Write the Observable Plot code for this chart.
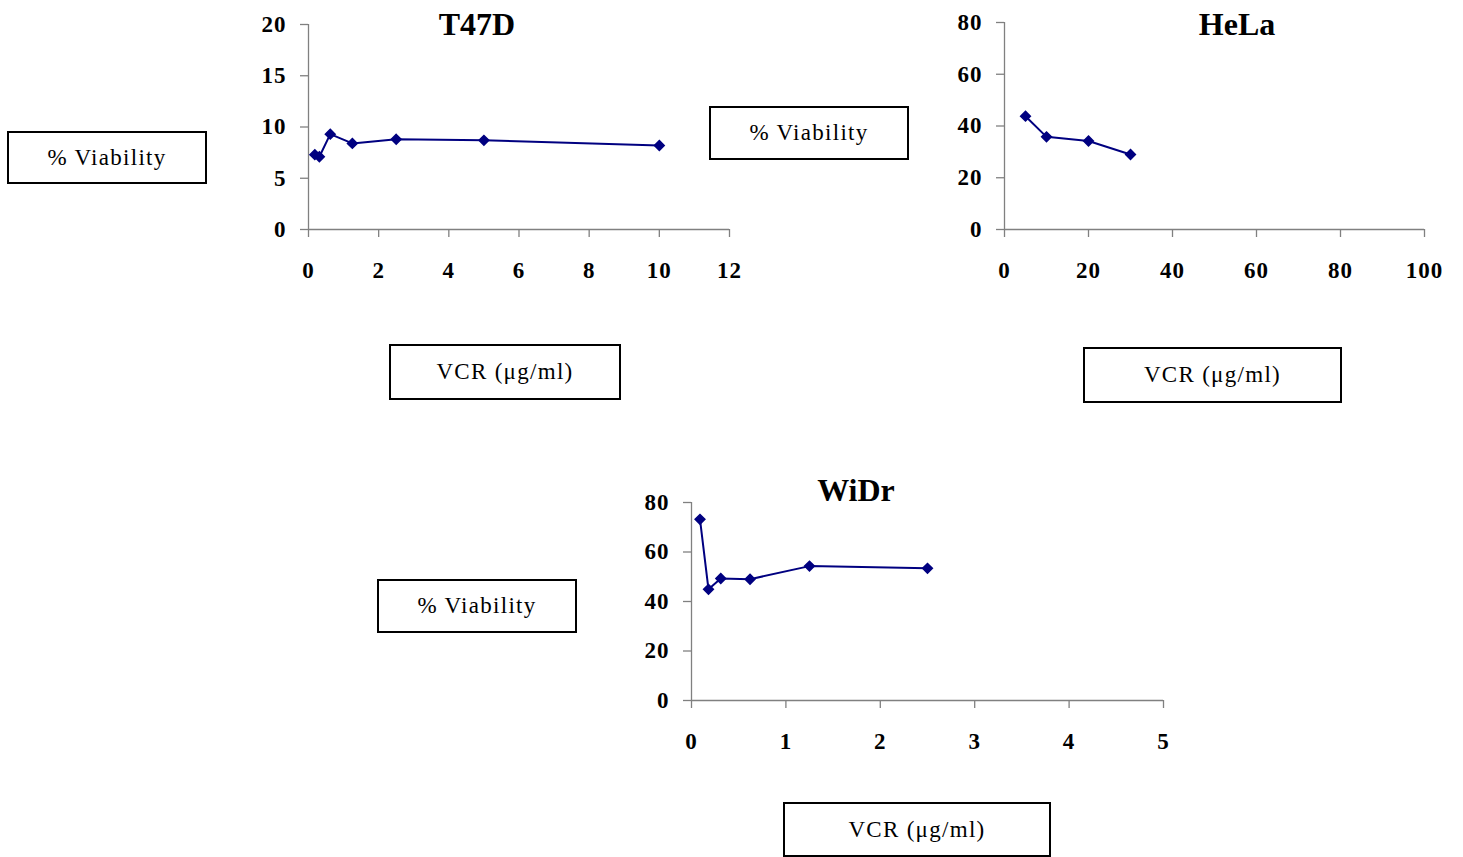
<!DOCTYPE html>
<html>
<head>
<meta charset="utf-8">
<script src="https://cdn.jsdelivr.net/npm/d3@7"></script>
<script src="https://cdn.jsdelivr.net/npm/@observablehq/plot@0.6"></script>
<style>
  html, body { margin: 0; padding: 0; background: #ffffff; }
  #page { position: relative; width: 1463px; height: 857px; overflow: hidden; }
  .panel { position: absolute; }
  .title { position: absolute; width: 240px; text-align: center; font-family: "Liberation Serif", "Times New Roman", serif;
           font-weight: bold; font-size: 32px; line-height: 32px; color: #000; }
  .box { position: absolute; box-sizing: border-box; border: 2px solid #000; background: #fff;
         display: flex; align-items: center; justify-content: center;
         font-family: "Liberation Serif", "Times New Roman", serif; font-size: 23px; letter-spacing: 1.3px; color: #000; }
</style>
</head>
<body>
<div id="page"></div>
<script>
// ---- data ----
const t47dDose = [0.18, 0.31, 0.62, 1.25, 2.5, 5, 10];
const t47dViability = [7.3, 7.1, 9.3, 8.4, 8.8, 8.7, 8.2];
const helaDose = [5, 10, 20, 30];
const helaViability = [43.8, 35.8, 34.2, 29.0];
const widrDose = [0.09, 0.18, 0.31, 0.62, 1.25, 2.5];
const widrViability = [73.2, 44.9, 49.3, 49.0, 54.3, 53.4];

const t47dXTicks = [0, 2, 4, 6, 8, 10, 12];
const t47dYTicks = [0, 5, 10, 15, 20];
const helaXTicks = [0, 20, 40, 60, 80, 100];
const helaYTicks = [0, 20, 40, 60, 80];
const widrXTicks = [0, 1, 2, 3, 4, 5];
const widrYTicks = [0, 20, 40, 60, 80];

const titles = ["T47D", "HeLa", "WiDr"];
const yLabel = "% Viability";
const xLabel = "VCR (μg/ml)";

// ---- drawing ----
const page = document.getElementById("page");
const axisGray = "#808080";
const lineColor = "#000080";
const fontFamily = "'Liberation Serif', 'Times New Roman', serif";
const fmt = d3.format("d");

function panel(dose, viab, xTicks, yTicks, pos) {
  const data = dose.map((d, i) => ({dose: d, viability: viab[i]}));
  const svg = Plot.plot({
    width: pos.width,
    height: pos.height,
    marginLeft: pos.ml,
    marginRight: pos.mr,
    marginTop: pos.mt,
    marginBottom: pos.mb,
    x: {domain: [xTicks[0], xTicks[xTicks.length - 1]]},
    y: {domain: [yTicks[0], yTicks[yTicks.length - 1]]},
    style: {background: "transparent", fontFamily, fontSize: "23px", fontWeight: "bold", overflow: "visible", letterSpacing: "1px"},
    marks: [
      Plot.ruleX([0], {stroke: axisGray, strokeWidth: 1.3}),
      Plot.ruleY([0], {stroke: axisGray, strokeWidth: 1.3}),
      Plot.axisY({ticks: yTicks, tickFormat: fmt, tickSize: 8, tickPadding: 14, stroke: axisGray, fill: "black", fontSize: 23, fontWeight: "bold", label: null, strokeWidth: 1.3}),
      Plot.axisX({ticks: xTicks, tickFormat: fmt, tickSize: 8, tickPadding: 24, stroke: axisGray, fill: "black", fontSize: 23, fontWeight: "bold", label: null, strokeWidth: 1.3}),
      Plot.line(data, {x: "dose", y: "viability", stroke: lineColor, strokeWidth: 2}),
      Plot.dot(data, {x: "dose", y: "viability", symbol: "diamond2", r: 4.4, fill: lineColor, stroke: lineColor})
    ]
  });
  const wrap = document.createElement("div");
  wrap.className = "panel";
  wrap.style.left = pos.left + "px";
  wrap.style.top = pos.top + "px";
  wrap.appendChild(svg);
  page.appendChild(wrap);
}

function title(text, cx, top) {
  const d = document.createElement("div");
  d.className = "title";
  d.textContent = text;
  d.style.left = (cx - 120) + "px";
  d.style.top = top + "px";
  page.appendChild(d);
}

function box(text, left, top, width, height) {
  const d = document.createElement("div");
  d.className = "box";
  d.textContent = text;
  d.style.left = left + "px";
  d.style.top = top + "px";
  d.style.width = width + "px";
  d.style.height = height + "px";
  page.appendChild(d);
}

// T47D: plot frame x 308..729, y 24..229
panel(t47dDose, t47dViability, t47dXTicks, t47dYTicks,
  {left: 230, top: 0, width: 520, height: 300, ml: 78, mr: 21, mt: 24, mb: 71});
// HeLa: frame x 1004..1424, y 22..229
panel(helaDose, helaViability, helaXTicks, helaYTicks,
  {left: 930, top: 0, width: 530, height: 300, ml: 74, mr: 36, mt: 22, mb: 71});
// WiDr: frame x 691..1163, y 502..700
panel(widrDose, widrViability, widrXTicks, widrYTicks,
  {left: 610, top: 480, width: 580, height: 300, ml: 81, mr: 27, mt: 22, mb: 80});

title(titles[0], 477, 8);
title(titles[1], 1237, 8);
title(titles[2], 856, 474);

box(yLabel, 7, 131, 200, 53);
box(yLabel, 709, 106, 200, 54);
box(xLabel, 389, 344, 232, 56);
box(xLabel, 1083, 347, 259, 56);
box(yLabel, 377, 579, 200, 54);
box(xLabel, 783, 802, 268, 55);
</script>
</body>
</html>
